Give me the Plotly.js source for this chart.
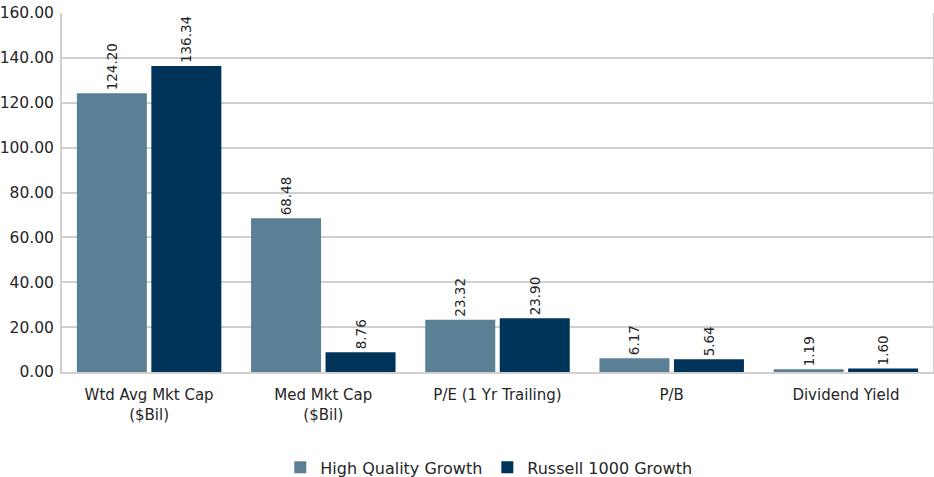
<!DOCTYPE html>
<html>
<head>
<meta charset="utf-8">
<script src="https://cdn.plot.ly/plotly-3.0.1.min.js"></script>
<style>html,body{margin:0;padding:0;background:#fff;}#chart{width:934px;height:477px;}</style>
</head>
<body>
<div id="chart"></div>
<script>
const categories = ["Wtd Avg Mkt Cap<br>($Bil)", "Med Mkt Cap<br>($Bil)", "P/E (1 Yr Trailing)", "P/B", "Dividend Yield"];
const hqgValues = [124.20, 68.48, 23.32, 6.17, 1.19];
const r1gValues = [136.34, 8.76, 23.90, 5.64, 1.60];
const seriesNames = ["High Quality Growth", "Russell 1000 Growth"];

const fontFam = "'DejaVu Sans', 'Liberation Sans', sans-serif";
const mk = (vals, name, color) => ({
  type: 'bar', x: categories, y: vals, name: name,
  marker: {color: color},
  text: vals.map(v => v.toFixed(2)),
  textposition: 'outside', textangle: -90,
  textfont: {family: fontFam, size: 13.5, color: '#262626'},
  cliponaxis: false
});
const data = [mk(hqgValues, seriesNames[0], '#5b7f95'), mk(r1gValues, seriesNames[1], '#003359')];
// plot area: top 13, bottom 372 in a 477px page; margin.b = 0
const paperH = 477 - 13 - 0;
const domainStart = (477 - 372) / paperH;
const layout = {
  width: 934, height: 477,
  margin: {l: 62, r: 1, t: 13, b: 0, autoexpand: false},
  barmode: 'group', bargap: 0.145, bargroupgap: 0.06,
  paper_bgcolor: '#fff', plot_bgcolor: '#fff',
  font: {family: fontFam, size: 14.5, color: '#262626'},
  xaxis: {showgrid: false, showline: true, linecolor: '#d0d0d0', linewidth: 2, ticks: '', tickfont: {size: 15}, ticklabelstandoff: 8},
  yaxis: {domain: [domainStart, 1], range: [0, 160], dtick: 20, tickformat: '.2f', showgrid: true, gridcolor: '#d0d0d0', gridwidth: 2,
          showline: true, linecolor: '#d0d0d0', linewidth: 2, mirror: true, zeroline: false, ticks: '', tickfont: {size: 15.5}, ticklabelstandoff: 3},
  showlegend: true,
  legend: {orientation: 'h', x: 0.49, xanchor: 'center', y: -0.016, yanchor: 'bottom',
           font: {size: 16}, traceorder: 'normal', itemwidth: 30}
};
Plotly.newPlot('chart', data, layout, {displayModeBar: false, staticPlot: true});
</script>
</body>
</html>
